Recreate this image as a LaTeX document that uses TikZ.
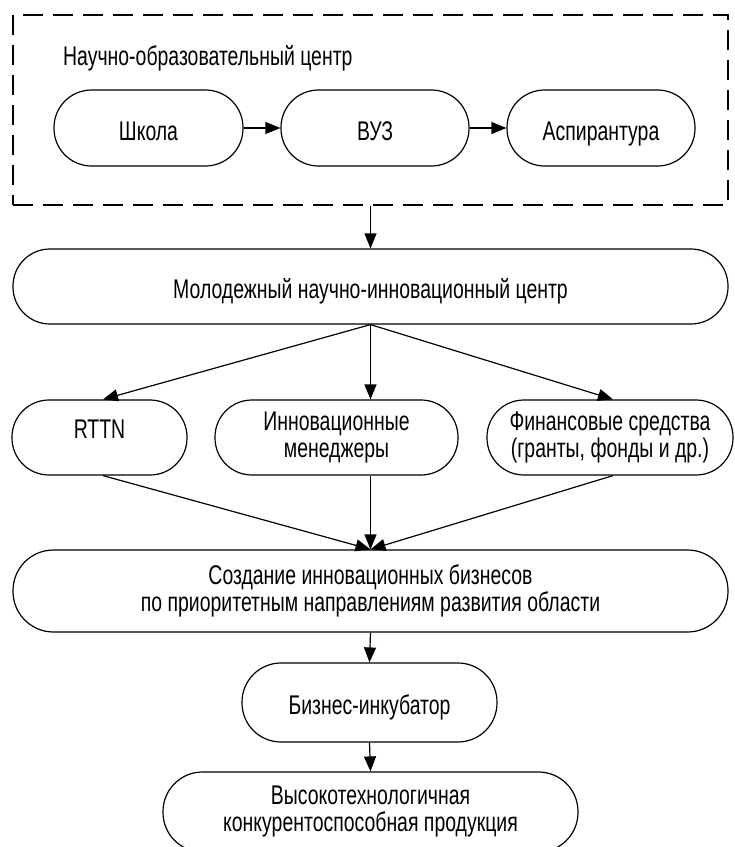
\documentclass[tikz,border=0pt]{standalone}
\usepackage{fontspec}
\setmainfont{Liberation Sans}[FakeStretch=0.72]
\usetikzlibrary{arrows.meta,calc}
\begin{document}
\begin{tikzpicture}[x=1pt,y=-1pt,
  every node/.style={font=\fontsize{27pt}{27pt}\selectfont, inner sep=2pt},
  box/.style={draw, line width=1.2pt, text height=25.5pt, text depth=1pt},
  box2/.style={draw, line width=1.2pt, align=center},
  arr/.style={line width=1.2pt, -{Triangle[length=15pt,width=12pt]}}]
\useasboundingbox (0,0) rectangle (735,847);
% dashed frame
\node[draw, dash pattern=on 20pt off 10pt, line width=1.3pt,
      minimum width=715pt, minimum height=190pt] (nc) at (370.5,110) {};
\node[anchor=base west] (nctitle) at (61,65.5) {Научно-образовательный центр};
% top row
\node[box, minimum width=189pt, minimum height=76pt, rounded corners=37.5pt] (shk) at (148.5,128) {Школа};
\node[box, minimum width=188pt, minimum height=76pt, rounded corners=37.5pt] (vuz) at (375,128) {ВУЗ};
\node[box, minimum width=188pt, minimum height=76pt, rounded corners=37.5pt] (asp) at (601,128) {Аспирантура};
% center
\node[box, minimum width=715pt, minimum height=75pt, rounded corners=37pt] (mol) at (370.5,286.5) {Молодежный научно-инновационный центр};
% third row
\node[box, text depth=23.5pt, minimum width=175pt, minimum height=75pt, rounded corners=37pt] (rttn) at (99.5,437.5) {RTTN};
\node[box2, minimum width=243pt, minimum height=75pt, rounded corners=37pt] (inn) at (336.5,437.5) {Инновационные\\менеджеры};
\node[box2, minimum width=246pt, minimum height=75pt, rounded corners=37pt] (fin) at (610,437.5) {Финансовые средства\\(гранты, фонды и др.)};
% business creation
\node[box2, minimum width=715pt, minimum height=82pt, rounded corners=40.5pt] (coz) at (370.5,591) {Создание инновационных бизнесов\\по приоритетным направлениям развития области};
\node[box, minimum width=255pt, minimum height=79pt, rounded corners=39pt] (biz) at (369.5,702.5) {Бизнес-инкубатор};
\node[box2, minimum width=415pt, minimum height=80pt, rounded corners=39.5pt] (vys) at (370.5,812) {Высокотехнологичная\\конкурентоспособная продукция};
% connectors
\draw[arr] (shk.east) -- (vuz.west);
\draw[arr] (vuz.east) -- (asp.west);
\draw[arr] (nc.south) -- (mol.north);
\draw[arr] (mol.south) -- ($(rttn.north)+(3.5,0)$);
\draw[arr] (mol.south) -- (mol.south |- inn.north);
\draw[arr] (mol.south) -- ($(fin.north)+(3,0)$);
\draw[arr] ($(rttn.south)+(3.5,0)$) -- (coz.north);
\draw[arr] (mol.south |- inn.south) -- (coz.north);
\draw[arr] ($(fin.south)+(3,0)$) -- (coz.north);
\draw[arr] (coz.south) -- (biz.north);
\draw[arr] (biz.south) -- (vys.north);
\end{tikzpicture}
\end{document}
